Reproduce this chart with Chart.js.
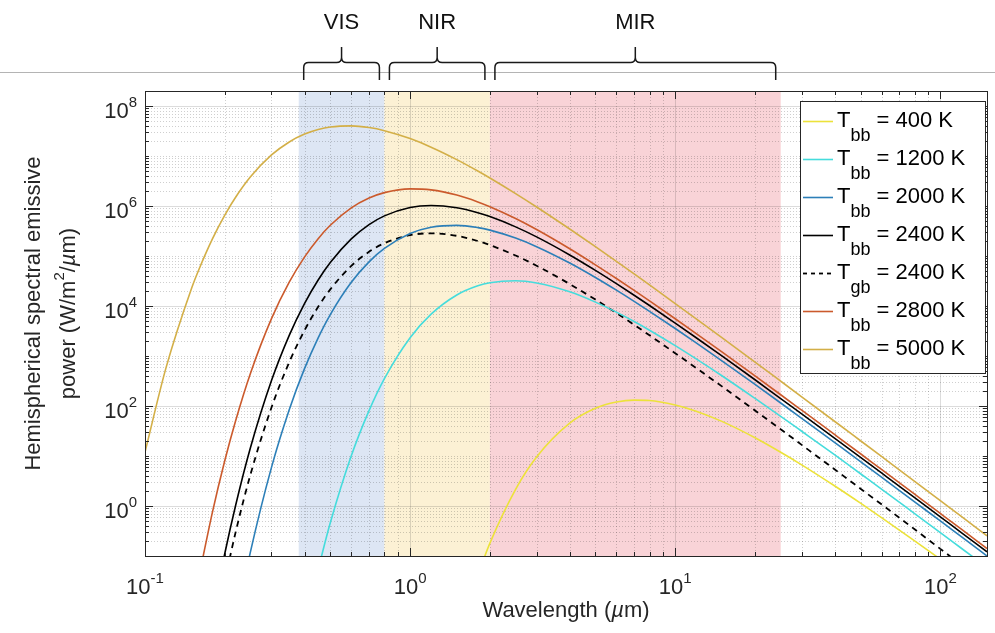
<!DOCTYPE html>
<html>
<head>
<meta charset="utf-8">
<title>Hemispherical spectral emissive power</title>
<script src="https://cdn.jsdelivr.net/npm/chart.js@4.4.1/dist/chart.umd.min.js"></script>
<style>
  html, body { margin: 0; padding: 0; background: #ffffff; }
  canvas { display: block; }
</style>
</head>
<body>
<canvas id="chart" width="995" height="633"></canvas>
<script>
// Wavelength samples (µm) shared by every curve
const wavelengths = [0.1, 0.12, 0.15, 0.16, 0.18, 0.2, 0.22, 0.25, 0.3, 0.35, 0.4, 0.45, 0.5, 0.6, 0.7, 0.8,
  1, 1.2, 1.5, 1.8, 2, 2.5, 3, 4, 5, 6, 7, 8, 10, 12, 15, 20, 25, 30, 40, 50, 60, 80, 100, 120, 150];

// Spectral emissive power (W/m²/µm) for each curve, aligned with wavelengths
const tbb400 = [null, null, null, null, null, null, null, null, null, null, null, null, null, null, null, null,
  null, null, null, 0.0415, 0.181, 2.16, 9.56, 45.4, 90.0, 120, 131, 129, 105, 79.0, 49.3, 23.2, 11.9, 6.65,
  2.51, 1.14, 0.586, 0.201, 0.0864, 0.043, 0.0182];
const tbb1200 = [null, null, null, null, null, null, null, null, null, null, null, 0.0544, 0.461, 10.1, 81.0, 354,
  2322, 6884, 16650, 25370, 29200, 31930, 28830, 19200, 11970, 7546, 4899, 3285, 1615, 876, 403, 142, 62.3, 31.3,
  10.5, 4.42, 2.18, 0.706, 0.294, 0.143, 0.0592];
const tbb2000 = [null, null, null, null, null, null, 0.00457, 0.122, 5.93, 84.4, 565, 2313, 6756, 29860, 76610, 142000,
  281300, 375600, 410600, 370700, 329500, 228500, 154000, 72490, 37240, 20770, 12410, 7833, 3553, 1831, 801, 270,
  115, 56.8, 18.5, 7.74, 3.78, 1.21, 0.502, 0.243, 0.100];
const tbb2400 = [null, null, null, null, 0.0068, 0.112, 1.06, 14.8, 323, 2593, 11320, 33210, 74310, 220300, 424900, 635900,
  934500, 1024000, 922400, 734700, 614300, 383200, 241500, 105100, 51680, 28040, 16430, 10240, 4557, 2321, 1003, 335,
  141, 69.6, 22.6, 9.40, 4.58, 1.47, 0.606, 0.294, 0.121];
const tgb2400 = [null, null, null, null, null, 0.0325, 0.308, 4.28, 93.6, 752, 3283, 9631, 21550, 63400, 121500, 180600,
  261700, 284800, 253700, 199800, 165900, 102300, 64000, 27540, 13440, 7235, 4207, 2600, 1139, 576, 247, 81.6,
  34.2, 16.7, 5.38, 2.22, 1.08, 0.342, 0.139, 0.0669, 0.0273];
const tbb2800 = [null, null, null, 0.0402, 0.792, 8.12, 52.1, 454, 5603, 29950, 96290, 222700, 412000, 918300, 1445000, 1857000,
  2208000, 2106000, 1657000, 1210000, 969800, 562600, 338800, 139800, 66720, 35520, 20550, 12680, 5571, 2813, 1206, 399,
  168, 82.4, 26.7, 11.1, 5.38, 1.72, 0.710, 0.344, 0.141];
const tbb5000 = [11.9, 579, 22970, 55170, 225900, 659700, 1515000, 3843000, 10510000, 19140000, 27470000, 33930000,
  38040000, 40090000, 37100000, 32180000, 22310000, 15040000, 8481000, 5018000, 3636000, 1773000, 956600, 346900,
  153900, 78200, 43790, 26380, 11220, 5549, 2330, 756, 314, 153, 49.0, 20.2, 9.79, 3.12, 1.28, 0.620, 0.254];

// Legend text parts
const seriesSubscripts = ['bb', 'bb', 'bb', 'bb', 'gb', 'bb', 'bb'];
const seriesTemperatures = [400, 1200, 2000, 2400, 2400, 2800, 5000];
const seriesValues = [tbb400, tbb1200, tbb2000, tbb2400, tgb2400, tbb2800, tbb5000];

// Spectral bands (µm)
const bandNames = ['VIS', 'NIR', 'MIR'];
const bandStart = [0.38, 0.8, 2];
const bandEnd = [0.8, 2, 25];

// Axis ticks
const xTickExponents = [-1, 0, 1, 2];
const yTickExponents = [0, 2, 4, 6, 8];

// ---- styling ----
const FONT = '"Liberation Sans", Arial, Helvetica, sans-serif';
const INK = '#262626';
const seriesColors = ['#ECE23A', '#45DCDC', '#2C7FB8', '#000000', '#000000', '#CB5A2C', '#D3AF47'];
const seriesDashes = [[], [], [], [], [6, 5], [], []];
const bandColors = ['#DDE6F4', '#FCF1D4', '#F9D3D7'];

function pointsFor(values) {
  return wavelengths.map((w, i) => ({ x: w, y: values[i] }));
}

const datasets = seriesValues.map((vals, i) => ({
  label: 'T' + seriesSubscripts[i] + ' = ' + seriesTemperatures[i] + ' K',
  data: pointsFor(vals),
  borderColor: seriesColors[i],
  borderWidth: seriesDashes[i].length ? 1.8 : 1.6,
  borderDash: seriesDashes[i],
  pointRadius: 0,
  fill: false,
  cubicInterpolationMode: 'monotone',
  order: i === 3 ? 0 : 1
}));

// Draw text made of runs (font, text, vertical offset) starting at x
function runsWidth(ctx, runs) {
  let w = 0;
  runs.forEach(r => { ctx.font = r.font; w += ctx.measureText(r.t).width; });
  return w;
}
function drawRuns(ctx, runs, x, y) {
  let cx = x;
  runs.forEach(r => {
    ctx.font = r.font;
    ctx.fillText(r.t, cx, y + (r.dy || 0));
    cx += ctx.measureText(r.t).width;
  });
}

function powerRuns(exp) {
  return [
    { t: '10', font: `22px ${FONT}` },
    { t: String(exp), font: `15px ${FONT}`, dy: -11 }
  ];
}

const decor = {
  id: 'decor',
  beforeDraw(chart) {
    const ctx = chart.ctx;
    ctx.save();
    ctx.fillStyle = '#ffffff';
    ctx.fillRect(0, 0, chart.width, chart.height);
    ctx.restore();
  },
  beforeDatasetsDraw(chart) {
    const { ctx, chartArea: a, scales: { x, y } } = chart;
    ctx.save();
    // band shading
    bandNames.forEach((n, i) => {
      const x0 = x.getPixelForValue(bandStart[i]);
      const x1 = x.getPixelForValue(bandEnd[i]);
      ctx.fillStyle = bandColors[i];
      ctx.fillRect(x0, a.top, x1 - x0, a.bottom - a.top);
    });
    // grid
    const xMin = x.min, xMax = x.max, yMin = y.min, yMax = y.max;
    ctx.lineWidth = 1;
    for (let e = -1; e <= 2; e++) {
      for (let k = 1; k <= 9; k++) {
        const v = k * Math.pow(10, e);
        if (v <= xMin || v >= xMax) continue;
        const px = Math.round(x.getPixelForValue(v)) + 0.5;
        ctx.beginPath();
        if (k === 1) { ctx.setLineDash([]); ctx.strokeStyle = 'rgba(38,38,38,0.16)'; }
        else { ctx.setLineDash([1, 2]); ctx.strokeStyle = 'rgba(38,38,38,0.22)'; }
        ctx.moveTo(px, a.top); ctx.lineTo(px, a.bottom); ctx.stroke();
      }
    }
    for (let e = -1; e <= 8; e++) {
      for (let k = 1; k <= 9; k++) {
        const v = k * Math.pow(10, e);
        if (v <= yMin || v >= yMax) continue;
        const py = Math.round(y.getPixelForValue(v)) + 0.5;
        ctx.beginPath();
        if (k === 1 && e % 2 === 0) { ctx.setLineDash([]); ctx.strokeStyle = 'rgba(38,38,38,0.16)'; }
        else { ctx.setLineDash([1, 2]); ctx.strokeStyle = 'rgba(38,38,38,0.22)'; }
        ctx.moveTo(a.left, py); ctx.lineTo(a.right, py); ctx.stroke();
      }
    }
    ctx.restore();
  },
  afterDatasetsDraw(chart) {
    const { ctx, chartArea: a, scales: { x, y } } = chart;
    ctx.save();
    ctx.strokeStyle = INK;
    ctx.lineWidth = 1;
    ctx.setLineDash([]);
    // tick marks on all four sides, pointing inward
    for (let e = -1; e <= 2; e++) {
      for (let k = 1; k <= 9; k++) {
        const v = k * Math.pow(10, e);
        if (v <= x.min || v >= x.max) continue;
        const px = Math.round(x.getPixelForValue(v)) + 0.5;
        const len = k === 1 ? 8 : 4;
        ctx.beginPath();
        ctx.moveTo(px, a.bottom); ctx.lineTo(px, a.bottom - len);
        ctx.moveTo(px, a.top); ctx.lineTo(px, a.top + len);
        ctx.stroke();
      }
    }
    for (let e = -1; e <= 8; e++) {
      for (let k = 1; k <= 9; k++) {
        const v = k * Math.pow(10, e);
        if (v <= y.min || v >= y.max) continue;
        const py = Math.round(y.getPixelForValue(v)) + 0.5;
        const len = (k === 1 && e % 2 === 0) ? 8 : 4;
        ctx.beginPath();
        ctx.moveTo(a.left, py); ctx.lineTo(a.left + len, py);
        ctx.moveTo(a.right, py); ctx.lineTo(a.right - len, py);
        ctx.stroke();
      }
    }
    // axes box
    ctx.strokeRect(Math.round(a.left) + 0.5, Math.round(a.top) + 0.5,
      Math.round(a.right - a.left), Math.round(a.bottom - a.top));

    // legend
    const lx = 800, ly = 101, lw = 185, lh = 272;
    ctx.fillStyle = '#ffffff';
    ctx.fillRect(lx, ly, lw, lh);
    ctx.strokeStyle = INK;
    ctx.strokeRect(lx + 0.5, ly + 0.5, lw, lh);
    ctx.textBaseline = 'alphabetic';
    ctx.textAlign = 'left';
    chart.data.datasets.forEach((ds, i) => {
      const base = 127 + 38 * i;
      const my = base - 5.5;
      ctx.beginPath();
      ctx.strokeStyle = ds.borderColor;
      ctx.lineWidth = ds.borderWidth;
      ctx.setLineDash(ds.borderDash.length ? [4, 4] : []);
      ctx.moveTo(803, my); ctx.lineTo(833, my); ctx.stroke();
      ctx.setLineDash([]);
      ctx.fillStyle = '#000000';
      drawRuns(ctx, [
        { t: 'T', font: `22px ${FONT}` },
        { t: seriesSubscripts[i], font: `18px ${FONT}`, dy: 14 },
        { t: ' = ' + seriesTemperatures[i] + ' K', font: `22px ${FONT}` }
      ], 837, base);
    });
    ctx.restore();
  },
  afterDraw(chart) {
    const { ctx, chartArea: a, scales: { x, y } } = chart;
    ctx.save();
    ctx.fillStyle = INK;
    ctx.textBaseline = 'alphabetic';
    ctx.textAlign = 'left';
    // x tick labels
    xTickExponents.forEach(e => {
      const px = x.getPixelForValue(Math.pow(10, e));
      const runs = powerRuns(e);
      drawRuns(ctx, runs, px - runsWidth(ctx, runs) / 2, 594);
    });
    // y tick labels
    yTickExponents.forEach(e => {
      const py = y.getPixelForValue(Math.pow(10, e));
      const runs = powerRuns(e);
      drawRuns(ctx, runs, a.left - 8 - runsWidth(ctx, runs), py + 12);
    });
    // x title
    const xt = [
      { t: 'Wavelength (', font: `22px ${FONT}` },
      { t: 'µ', font: `italic 22px ${FONT}` },
      { t: 'm)', font: `22px ${FONT}` }
    ];
    drawRuns(ctx, xt, (a.left + a.right) / 2 - runsWidth(ctx, xt) / 2, 617);
    // y title (two lines, rotated)
    const cy = (a.top + a.bottom) / 2 - 10;
    const l1 = [{ t: 'Hemispherical spectral emissive', font: `22px ${FONT}` }];
    const l2 = [
      { t: 'power (W/m', font: `22px ${FONT}` },
      { t: '2', font: `15px ${FONT}`, dy: -11 },
      { t: '/', font: `22px ${FONT}` },
      { t: 'µ', font: `italic 22px ${FONT}` },
      { t: 'm)', font: `22px ${FONT}` }
    ];
    [[l1, 40], [l2, 75]].forEach(([runs, bx]) => {
      ctx.save();
      ctx.translate(bx, cy);
      ctx.rotate(-Math.PI / 2);
      drawRuns(ctx, runs, -runsWidth(ctx, runs) / 2, 0);
      ctx.restore();
    });

    // separator rule above the plot
    ctx.strokeStyle = '#b4b4b4';
    ctx.lineWidth = 1;
    ctx.beginPath();
    ctx.moveTo(0, 72.5); ctx.lineTo(chart.width, 72.5); ctx.stroke();

    // band braces and names
    ctx.strokeStyle = '#1a1a1a';
    ctx.lineWidth = 1.5;
    ctx.fillStyle = '#111111';
    ctx.textAlign = 'center';
    ctx.font = `22px ${FONT}`;
    bandNames.forEach((n, i) => {
      const x0 = x.getPixelForValue(bandStart[i]) + 5;
      const x1 = x.getPixelForValue(bandEnd[i]) - 5;
      const tip = (x0 + x1) / 2;
      const yb = 80, yh = 62.5, yt = 47, r = 5;
      ctx.beginPath();
      ctx.moveTo(x0, yb); ctx.lineTo(x0, yh + r);
      ctx.quadraticCurveTo(x0, yh, x0 + r, yh);
      ctx.lineTo(tip - r, yh);
      ctx.quadraticCurveTo(tip, yh, tip, yh - r);
      ctx.lineTo(tip, yt);
      ctx.moveTo(tip, yh - r);
      ctx.quadraticCurveTo(tip, yh, tip + r, yh);
      ctx.lineTo(x1 - r, yh);
      ctx.quadraticCurveTo(x1, yh, x1, yh + r);
      ctx.lineTo(x1, yb);
      ctx.stroke();
      ctx.fillText(n, tip, 29);
    });
    ctx.restore();
  }
};

new Chart(document.getElementById('chart'), {
  type: 'line',
  data: { datasets },
  options: {
    responsive: false,
    animation: false,
    devicePixelRatio: 1,
    layout: { padding: { left: 145, right: 8, top: 91, bottom: 77 } },
    plugins: { legend: { display: false }, tooltip: { enabled: false } },
    elements: { point: { radius: 0 } },
    scales: {
      x: { type: 'logarithmic', min: 0.1, max: 150, display: false },
      y: { type: 'logarithmic', min: 0.1, max: 2e8, display: false }
    }
  },
  plugins: [decor]
});
</script>
</body>
</html>
